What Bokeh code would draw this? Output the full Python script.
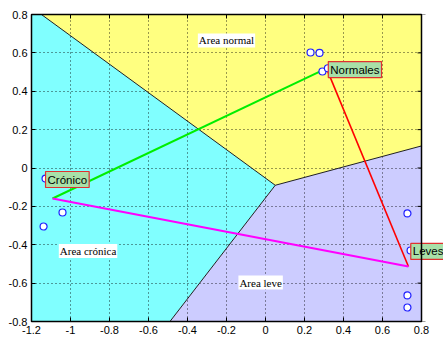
from bokeh.plotting import figure
from bokeh.models import Label, FixedTicker, LinearAxis, Range1d, CustomJSTickFormatter
from bokeh.embed import file_html
from bokeh.resources import INLINE

# Decision regions (polygons)
normal_x = [-1.149, 0.8, 0.8, 0.05]
normal_y = [0.8, 0.8, 0.115, -0.09]
cronica_x = [-1.2, -1.149, 0.05, -0.49, -1.2]
cronica_y = [0.8, 0.8, -0.09, -0.8, -0.8]
leve_x = [0.05, 0.8, 0.8, -0.49]
leve_y = [-0.09, 0.115, -0.8, -0.8]

# Boundaries from the junction
bound_x = [[-1.149, 0.05], [0.05, 0.8], [0.05, -0.49]]
bound_y = [[0.8, -0.09], [-0.09, 0.115], [-0.09, -0.8]]

# Samples
pts_x = [0.231, 0.277, 0.292, 0.32, -1.128, -1.041, -1.138, 0.728, 0.744, 0.728, 0.728]
pts_y = [0.602, 0.600, 0.503, 0.52, -0.055, -0.232, -0.305, -0.237, -0.43, -0.664, -0.727]

# Class centroids: Crónico, Normales, Leves
cent_names = ["Crónico", "Normales", "Leves"]
cent_x = [-1.092, 0.313, 0.733]
cent_y = [-0.159, 0.519, -0.513]

# Class tags
tag_text = ["Crónico", "Normales", "Leves"]
tag_x = [-1.128, 0.322, 0.745]
tag_y = [-0.06, 0.513, -0.435]

area_text = ["Area normal", "Area crónica", "Area leve"]
area_x = [-0.2, -0.91, -0.025]
area_y = [0.665, -0.432, -0.597]

x_ticks = [-1.2, -1.0, -0.8, -0.6, -0.4, -0.2, 0.0, 0.2, 0.4, 0.6, 0.8]
x_tick_labels = ["-1.2", "-1", "-0.8", "-0.6", "-0.4", "-0.2", "0", "0.2", "0.4", "0.6", "0.8"]
y_ticks = [-0.8, -0.6, -0.4, -0.2, 0.0, 0.2, 0.4, 0.6, 0.8]
y_tick_labels = ["-0.8", "-0.6", "-0.4", "-0.2", "0", "0.2", "0.4", "0.6", "0.8"]

X0, X1, Y0, Y1 = -1.2, 0.8, -0.8, 0.8
PX_PER_UNIT = 195.0
X_VIEW_END = X1 + 22 / PX_PER_UNIT  # room to the right so the tag is not clipped

p = figure(width=443, height=337, x_range=Range1d(X0, X_VIEW_END), y_range=Range1d(Y0, Y1),
           output_backend="svg", toolbar_location=None,
           min_border_left=31, min_border_right=0, min_border_top=14, min_border_bottom=16)
p.background_fill_color = "white"
p.outline_line_color = None

for xs, ys, col in [(normal_x, normal_y, "#FFFF80"), (cronica_x, cronica_y, "#80FFFF"), (leve_x, leve_y, "#CCCCFF")]:
    r = p.patch(xs, ys, fill_color=col, line_color=None)
    r.level = "image"
p.multi_line(bound_x, bound_y, line_color="#202020", line_width=1)

# inner ticks on the right edge
p.scatter([X1] * len(y_ticks), y_ticks, marker="dash", size=8, line_color="black", line_width=1)
# blank strip right of the box
p.quad(left=X1, right=X_VIEW_END, bottom=Y0, top=Y1, fill_color="white", line_color=None)

# connecting lines
p.line([cent_x[0], cent_x[1]], [cent_y[0], cent_y[1]], line_color="#00EE00", line_width=2)
p.line([cent_x[1], cent_x[2]], [cent_y[1], cent_y[2]], line_color="#FF0000", line_width=1.6)
p.line([cent_x[0], cent_x[2]], [cent_y[0], cent_y[2]], line_color="#FF00FF", line_width=2)

p.scatter(pts_x, pts_y, size=7, marker="circle", fill_color="white", line_color="#2020FF", line_width=1.2)

for t, x, y in zip(area_text, area_x, area_y):
    p.add_layout(Label(x=x, y=y, text=t, text_align="center", text_baseline="middle",
                       text_font="Liberation Serif", text_font_size="11px", text_color="black",
                       background_fill_color="white", padding=1))

for t, x, y in zip(tag_text, tag_x, tag_y):
    p.add_layout(Label(x=x, y=y, text=t, text_align="left", text_baseline="middle",
                       text_font="Liberation Sans", text_font_size="11.5px", text_color="black",
                       background_fill_color="#A8E0A8", border_line_color="#E03030", border_line_width=1.2,
                       padding=2))

# box outline, drawn over everything (as in the reference)
box = p.quad(left=X0, right=X1, bottom=Y0, top=Y1, fill_color=None, line_color="black", line_width=1.5)
box.level = "overlay"

for ax, ticks, labels in [(p.xaxis[0], x_ticks, x_tick_labels), (p.yaxis[0], y_ticks, y_tick_labels)]:
    ax.ticker = FixedTicker(ticks=ticks)
    ax.major_label_overrides = {t: l for t, l in zip(ticks, labels)}
    ax.major_tick_in = 4
    ax.major_tick_out = 0
    ax.minor_tick_line_color = None
    ax.major_label_text_font = "Liberation Sans"
    ax.major_label_text_font_size = "11px"
    ax.major_label_text_color = "black"
    ax.major_label_standoff = 4
p.xaxis[0].axis_line_color = None
p.yaxis[0].axis_line_color = "black"

top_ax = LinearAxis(ticker=FixedTicker(ticks=x_ticks), major_tick_in=4, major_tick_out=0,
                    minor_tick_line_color=None, axis_line_color=None,
                    formatter=CustomJSTickFormatter(code="return ''"), major_label_standoff=0)
p.add_layout(top_ax, "above")

p.xgrid.ticker = FixedTicker(ticks=x_ticks)
p.ygrid.ticker = FixedTicker(ticks=y_ticks)
for g in [p.xgrid[0], p.ygrid[0]]:
    g.grid_line_color = "black"
    g.grid_line_dash = "1 3"
    g.grid_line_alpha = 0.8

open("out.html", "w").write(file_html(p, INLINE))
